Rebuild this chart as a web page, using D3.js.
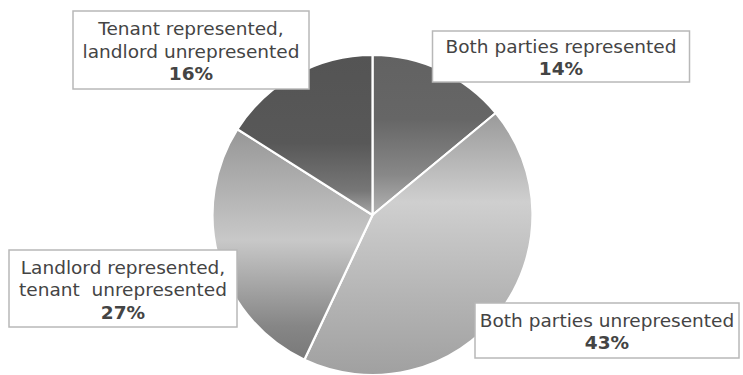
<!DOCTYPE html>
<html>
<head>
<meta charset="utf-8">
<script src="https://cdn.jsdelivr.net/npm/d3@7"></script>
<style>
  html, body { margin: 0; padding: 0; background: #fff; }
  svg { display: block; }
</style>
</head>
<body>
<svg id="chart" width="743" height="375"></svg>
<script>
// ---- data ----
const categories = [
  "Both parties represented",
  "Both parties unrepresented",
  "Landlord represented, tenant unrepresented",
  "Tenant represented, landlord unrepresented"
];
const values = [14, 43, 27, 16];
const labelLines = [
  ["Both parties represented"],
  ["Both parties unrepresented"],
  ["Landlord represented,", "tenant  unrepresented"],
  ["Tenant represented,", "landlord unrepresented"]
];
const percentLabels = ["14%", "43%", "27%", "16%"];

// ---- layout / style ----
const W = 743, H = 375;
const cx = 372.5, cy = 215, R = 160;
const gradStops = [
  { y1: 55, y2: 215, stops: [[0, "#626262"], [0.4, "#666666"], [0.75, "#888888"], [1, "#b5b5b5"]] },
  { y1: 117, y2: 375, stops: [[0, "#9c9c9c"], [0.33, "#cfcfcf"], [0.7, "#b4b4b4"], [1, "#a0a0a0"]] },
  { y1: 130, y2: 375, stops: [[0, "#979797"], [0.45, "#c8c8c8"], [0.8, "#868686"], [1, "#737373"]] },
  { y1: 55, y2: 215, stops: [[0, "#545454"], [0.55, "#585858"], [0.85, "#777777"], [1, "#a8a8a8"]] }
];
// label boxes (center x/y, width, height)
const labelPos = [
  { x: 561, y: 56.5, w: 257, h: 51 },
  { x: 607, y: 330.5, w: 264, h: 55 },
  { x: 123, y: 288.5, w: 228, h: 77 },
  { x: 191, y: 50, w: 236, h: 78 }
];

const svg = d3.select("#chart");
const defs = svg.append("defs");
gradStops.forEach((g, i) => {
  const lg = defs.append("linearGradient")
    .attr("id", "g" + i)
    .attr("gradientUnits", "userSpaceOnUse")
    .attr("x1", 0).attr("x2", 0)
    .attr("y1", g.y1 - cy).attr("y2", g.y2 - cy);
  g.stops.forEach(s => lg.append("stop").attr("offset", s[0]).attr("stop-color", s[1]));
});

const pie = d3.pie().sort(null).value(d => d);
const arcs = pie(values);
const arc = d3.arc().innerRadius(0).outerRadius(R);

const gPie = svg.append("g").attr("transform", `translate(${cx},${cy})`);
gPie.selectAll("path")
  .data(arcs)
  .join("path")
  .attr("d", arc)
  .attr("fill", (d, i) => `url(#g${i})`)
  .attr("stroke", "#fff")
  .attr("stroke-width", 2.2)
  .attr("stroke-linejoin", "round");

// labels
const fontFamily = "'DejaVu Sans', Verdana, sans-serif";
const fontSize = 18.5;
const lineH = 22.5;
const gLab = svg.append("g");
arcs.forEach((a, i) => {
  const p = labelPos[i];
  const lines = labelLines[i].concat([percentLabels[i]]);
  const g = gLab.append("g");
  g.append("rect")
    .attr("x", p.x - p.w / 2).attr("y", p.y - p.h / 2)
    .attr("width", p.w).attr("height", p.h)
    .attr("fill", "#fff")
    .attr("stroke", "#b8b8b8")
    .attr("stroke-width", 1.5);
  const n = lines.length;
  lines.forEach((t, j) => {
    const yc = p.y + (j - (n - 1) / 2) * lineH;
    g.append("text")
      .attr("x", p.x)
      .attr("y", yc + 7.5)
      .attr("text-anchor", "middle")
      .attr("font-family", fontFamily)
      .attr("font-size", fontSize)
      .attr("font-weight", j === n - 1 ? "bold" : "normal")
      .attr("fill", "#444444")
      .style("white-space", "pre")
      .text(t);
  });
});
</script>
</body>
</html>
